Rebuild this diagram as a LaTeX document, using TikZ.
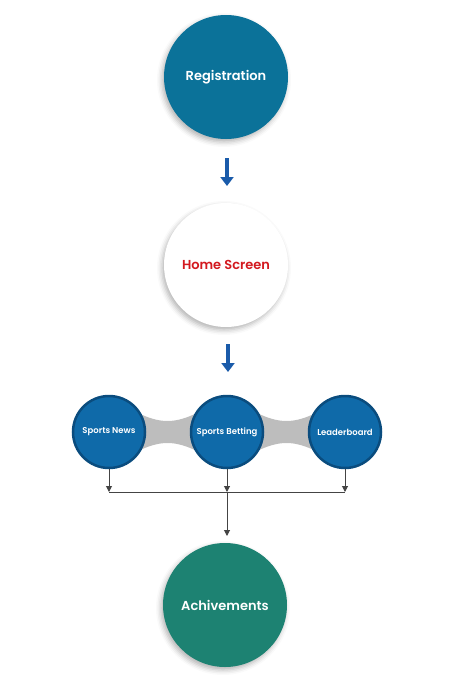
\documentclass[tikz,border=0pt]{standalone}
\usepackage{fontspec}
\setmainfont{Poppins}
\newfontfamily\popsemi{Poppins SemiBold}
\usetikzlibrary{arrows.meta,shadows.blur}
\definecolor{regblue}{HTML}{0B7299}
\definecolor{homered}{HTML}{D3191F}
\definecolor{subfill}{HTML}{0F6AA9}
\definecolor{subborder}{HTML}{0A4C7E}
\definecolor{achgreen}{HTML}{1D8272}
\definecolor{arrowblue}{HTML}{1A5BAA}
\definecolor{bridgegray}{HTML}{BDBDBD}
\definecolor{linegray}{HTML}{444444}
\tikzset{
  bigcircle/.style={circle, minimum size=124pt, inner sep=0pt, draw=none,
    font=\popsemi\fontsize{13}{15}\selectfont,
    blur shadow={shadow xshift=-2pt, shadow yshift=-3pt, shadow blur radius=5pt, shadow opacity=30}},
  subcircle/.style={circle, minimum size=72pt, inner sep=0pt, fill=subfill, draw=subborder,
    line width=2.5pt, text=white, font=\popsemi\fontsize{8.5}{10}\selectfont},
  bigarrow/.style={arrowblue, line width=4pt, -{Triangle[width=13pt,length=9pt]}},
  thinarrow/.style={linegray, line width=1pt, -{Triangle[width=6pt,length=6pt]}},
  thinline/.style={linegray, line width=1pt}
}
\begin{document}
\begin{tikzpicture}[x=1pt,y=-1pt]
\useasboundingbox (0,0) rectangle (454,680);
\node[bigcircle, fill=regblue, text=white] (reg) at (226,77) {Registration};
\node[bigcircle, fill=white, text=homered] (home) at (226,265) {Home Screen};
\node[bigcircle, fill=achgreen, text=white] (ach) at (225,605) {Achivements};

\coordinate (a1s) at (227,158);
\coordinate (a1e) at (227,186);
\coordinate (a2s) at (228,344);
\coordinate (a2e) at (228,372);
\draw[bigarrow] (a1s) -- (a1e);
\draw[bigarrow] (a2s) -- (a2e);

% bridges
\fill[bridgegray] (136,412) .. controls (160,424) and (175,424) .. (199,412)
   -- (199,452) .. controls (175,440) and (160,440) .. (136,452) -- cycle;
\fill[bridgegray] (255,412) .. controls (279,424) and (294,424) .. (318,412)
   -- (318,452) .. controls (294,440) and (279,440) .. (255,452) -- cycle;

\node[subcircle] (news) at (109,432) {Sports News};
\node[subcircle] (bet) at (227,432) {Sports Betting};
\node[subcircle] (lead) at (345,432) {Leaderboard};

\coordinate (jn) at (109,492);
\coordinate (jb) at (227,492);
\coordinate (jl) at (345,492);
\coordinate (achtop) at (227,536);
\draw[thinarrow] (news.south) -- (jn);
\draw[thinarrow] (bet.south) -- (jb);
\draw[thinarrow] (lead.south) -- (jl);
\draw[thinline] (jn) -- (jl);
\draw[thinarrow] (jb) -- (achtop);
\end{tikzpicture}
\end{document}
